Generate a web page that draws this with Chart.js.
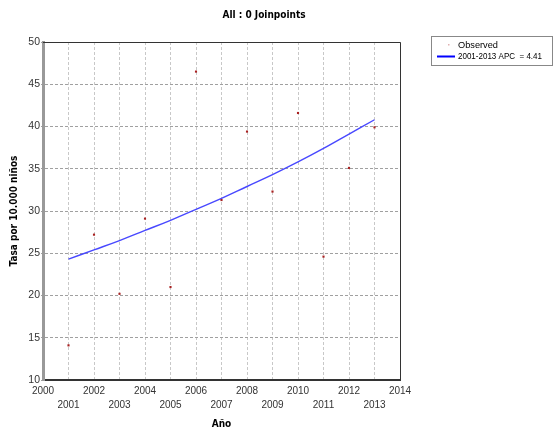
<!DOCTYPE html>
<html>
<head>
<meta charset="utf-8">
<script src="https://cdn.jsdelivr.net/npm/chart.js@4.4.1/dist/chart.umd.min.js"></script>
<style>
  html, body { margin: 0; padding: 0; background: #fff; }
  #wrap { width: 554px; height: 434px; }
</style>
</head>
<body>
<div id="wrap"><canvas id="chart" width="554" height="434"></canvas></div>
<script>
// Observed rates per 10,000 children
const years = [2001, 2002, 2003, 2004, 2005, 2006, 2007, 2008, 2009, 2010, 2011, 2012, 2013];
const observed = [14.1, 27.2, 20.2, 29.1, 21.0, 46.5, 31.3, 39.4, 32.3, 41.6, 24.6, 35.1, 39.9];
// Modelled values (0 joinpoints, APC 4.41)
const modelled = [24.3, 25.4, 26.5, 27.7, 28.9, 30.2, 31.5, 32.9, 34.3, 35.8, 37.4, 39.1, 40.8];

const chartTitle = 'All : 0 Joinpoints';
const observedLabel = 'Observed';
const modelLabel = '2001-2013 APC  = 4.41';

const tickFont = { family: '"Liberation Sans"', size: 10, lineHeight: 1.4 };
const boldFont = { family: '"DejaVu Sans Condensed", "DejaVu Sans"', size: 10, weight: 'bold' };

// title, plot frame and legend box
const decorations = {
    id: 'decorations',
    afterDraw(chart) {
        const ctx = chart.ctx;
        const area = chart.chartArea;
        ctx.save();

        // top and right edges of the plot frame
        ctx.strokeStyle = '#333';
        ctx.lineWidth = 1;
        ctx.beginPath();
        ctx.moveTo(area.left, area.top + 0.5);
        ctx.lineTo(area.right + 0.5, area.top + 0.5);
        ctx.lineTo(area.right + 0.5, area.bottom);
        ctx.stroke();

        // title
        ctx.fillStyle = '#000';
        ctx.font = 'bold 10px "DejaVu Sans Condensed", "DejaVu Sans"';
        ctx.textAlign = 'center';
        ctx.textBaseline = 'middle';
        ctx.fillText(chartTitle, 264, 15, 84);

        // legend
        ctx.strokeStyle = '#888';
        ctx.strokeRect(431.5, 36.5, 121, 29);
        ctx.font = '9.5px "Liberation Sans"';
        ctx.textAlign = 'left';
        ctx.fillStyle = '#000';
        const ds = chart.data.datasets;
        ctx.fillText(ds[0].label, 458, 45, 40);
        ctx.fillText(ds[1].label, 458, 56, 84);
        ctx.fillStyle = '#e0b0b0';
        ctx.fillRect(448, 44, 1.5, 1.5);
        ctx.strokeStyle = '#0000ff';
        ctx.lineWidth = 2;
        ctx.beginPath();
        ctx.moveTo(437, 56.5);
        ctx.lineTo(455, 56.5);
        ctx.stroke();
        ctx.restore();
    }
};

new Chart(document.getElementById('chart'), {
    type: 'line',
    data: {
        datasets: [
            {
                label: observedLabel,
                data: years.map((y, i) => ({ x: y, y: observed[i] })),
                showLine: false,
                pointStyle: 'rect',
                pointRadius: 1.5,
                pointBackgroundColor: '#a82020',
                pointBorderColor: '#a82020',
                pointBorderWidth: 0
            },
            {
                label: modelLabel,
                data: years.map((y, i) => ({ x: y, y: modelled[i] })),
                borderColor: '#4848ff',
                borderWidth: 1.4,
                pointRadius: 0,
                tension: 0.4,
                fill: false
            }
        ]
    },
    options: {
        responsive: false,
        animation: false,
        layout: { padding: { top: 42, right: 154, left: 0, bottom: 0 } },
        plugins: {
            legend: { display: false },
            tooltip: { enabled: false }
        },
        scales: {
            x: {
                type: 'linear',
                min: 2000,
                max: 2014,
                afterFit: (scale) => { scale.height = 54; },
                ticks: {
                    stepSize: 1,
                    autoSkip: false,
                    maxRotation: 0,
                    padding: 4,
                    color: '#333',
                    font: tickFont,
                    callback: (v) => (v % 2 === 0 ? [String(v), ''] : ['', String(v)])
                },
                grid: {
                    color: '#c8c8c8',
                    drawTicks: false
                },
                border: { color: '#333', width: 2, dash: [3, 2] },
                title: {
                    display: true,
                    text: 'Año',
                    color: '#000',
                    font: boldFont,
                    padding: { top: 0, bottom: 4 }
                }
            },
            y: {
                min: 10,
                max: 50,
                afterFit: (scale) => { scale.width = 43; },
                ticks: {
                    stepSize: 5,
                    padding: 1,
                    color: '#333',
                    font: { family: '"Liberation Sans"', size: 10.5 }
                },
                grid: {
                    color: '#a0a0a0',
                    tickLength: 2
                },
                border: { color: '#999', width: 3, dash: [3, 2] },
                title: {
                    display: true,
                    text: 'Tasa por 10.000 niños',
                    color: '#000',
                    font: boldFont,
                    padding: { top: 8, bottom: 0 }
                }
            }
        }
    },
    plugins: [decorations]
});
</script>
</body>
</html>
